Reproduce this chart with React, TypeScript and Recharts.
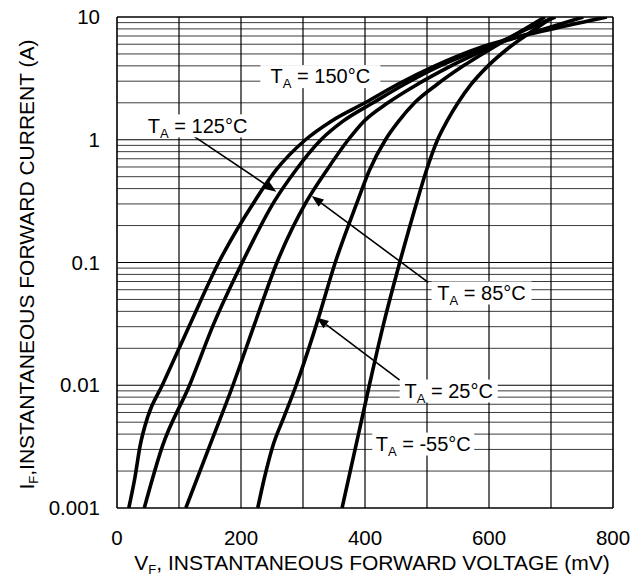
import React from 'react';
import { LineChart, Line, XAxis, YAxis, ReferenceLine, ReferenceDot } from 'recharts';

const FONT = '"Liberation Sans", Arial, Helvetica, sans-serif';

// Axes
const voltageTicks = [0, 200, 400, 600, 800];
const currentTicks = [0.001, 0.01, 0.1, 1, 10];
const currentTickLabels = ['0.001', '0.01', '0.1', '1', '10'];
const verticalGrid = [100, 200, 300, 400, 500, 600, 700];
const decades = [0.001, 0.01, 0.1, 1];
const minorMultipliers = [2, 3, 4, 5, 6, 7, 8, 9];

// Series: forward voltage (mV) vs forward current (A)
const t150 = [
  { v: 19, i: 0.001 }, { v: 29, i: 0.00178 }, { v: 37, i: 0.00316 }, { v: 50, i: 0.00562 },
  { v: 73, i: 0.01 }, { v: 118, i: 0.0316 }, { v: 164, i: 0.1 }, { v: 222, i: 0.316 },
  { v: 256, i: 0.562 }, { v: 304, i: 1.0 }, { v: 345, i: 1.41 }, { v: 400, i: 2.0 },
  { v: 452, i: 2.82 }, { v: 512, i: 3.98 }, { v: 585, i: 5.62 }, { v: 700, i: 7.94 },
  { v: 790, i: 10 },
];
const t125 = [
  { v: 44, i: 0.001 }, { v: 73, i: 0.00316 }, { v: 117, i: 0.01 }, { v: 156, i: 0.0316 },
  { v: 202, i: 0.1 }, { v: 254, i: 0.316 }, { v: 288, i: 0.562 }, { v: 329, i: 1.0 },
  { v: 364, i: 1.41 }, { v: 413, i: 2.0 }, { v: 463, i: 2.82 }, { v: 520, i: 3.98 },
  { v: 593, i: 5.62 }, { v: 688, i: 7.94 }, { v: 752, i: 10 },
];
const t85 = [
  { v: 111, i: 0.001 }, { v: 149, i: 0.00316 }, { v: 187, i: 0.01 }, { v: 222, i: 0.0316 },
  { v: 258, i: 0.1 }, { v: 306, i: 0.316 }, { v: 338, i: 0.562 }, { v: 373, i: 1.0 },
  { v: 398, i: 1.41 }, { v: 437, i: 2.0 }, { v: 484, i: 2.82 }, { v: 538, i: 3.98 },
  { v: 600, i: 5.62 }, { v: 660, i: 7.94 }, { v: 707, i: 10 },
];
const t25 = [
  { v: 227, i: 0.001 }, { v: 238, i: 0.00178 }, { v: 251, i: 0.00316 }, { v: 270, i: 0.00562 },
  { v: 289, i: 0.01 }, { v: 322, i: 0.0316 }, { v: 352, i: 0.1 }, { v: 388, i: 0.316 },
  { v: 407, i: 0.562 }, { v: 433, i: 1.0 }, { v: 454, i: 1.41 }, { v: 480, i: 2.0 },
  { v: 516, i: 2.82 }, { v: 558, i: 3.98 }, { v: 606, i: 5.62 }, { v: 657, i: 7.94 },
  { v: 690, i: 10 },
];
const tm55 = [
  { v: 363, i: 0.001 }, { v: 385, i: 0.00316 }, { v: 407, i: 0.01 }, { v: 430, i: 0.0316 },
  { v: 456, i: 0.1 }, { v: 484, i: 0.316 }, { v: 499, i: 0.562 }, { v: 517, i: 1.0 },
  { v: 532, i: 1.41 }, { v: 550, i: 2.0 }, { v: 571, i: 2.82 }, { v: 598, i: 3.98 },
  { v: 632, i: 5.62 }, { v: 674, i: 7.94 }, { v: 703, i: 10 },
];
const seriesList = [t150, t125, t85, t25, tm55];

// Annotations (label centres and arrow ends in data units)
const labelTexts = ['150°C', '125°C', '85°C', '25°C', '-55°C'];
const labelVolts = [328, 130, 588, 535, 494];
const labelAmps = [3.3, 1.31, 0.057, 0.00906, 0.00335];
const labelWidths = [120, 112, 100, 98, 102];

const arrowStarts = [{ x: 117, y: 1.128 }, { x: 502, y: 0.069 }, { x: 456, y: 0.011 }];
const arrowEnds = [{ x: 257, y: 0.377 }, { x: 314, y: 0.348 }, { x: 322, y: 0.0357 }];

const minorValues: number[] = [];
decades.forEach((d) => minorMultipliers.forEach((m) => minorValues.push(+(d * m).toPrecision(3))));

const Arrow = (props: any) => {
  const { x1, y1, x2, y2 } = props;
  const dx = x2 - x1;
  const dy = y2 - y1;
  const len = Math.hypot(dx, dy) || 1;
  const ux = dx / len;
  const uy = dy / len;
  const L = 12;
  const W = 4.5;
  const bx = x2 - ux * L;
  const by = y2 - uy * L;
  const pts = `${x2},${y2} ${bx - uy * W},${by + ux * W} ${bx + uy * W},${by - ux * W}`;
  return (
    <g>
      <line x1={x1} y1={y1} x2={bx} y2={by} stroke="#000" strokeWidth={1.6} />
      <polygon points={pts} fill="#000" />
    </g>
  );
};

const makeLabel = (text: string, w: number) => (props: any) => {
  const { cx, cy } = props;
  return (
    <g>
      <rect x={cx - w / 2} y={cy - 11} width={w} height={23} fill="#fff" />
      <text x={cx} y={cy + 7.2} textAnchor="middle" fontFamily={FONT} fontSize={20} fill="#000">
        T<tspan fontSize={13} dy={5}>A</tspan>
        <tspan dy={-5}>{' = ' + text}</tspan>
      </text>
    </g>
  );
};

const XTick = (props: any) => {
  const { x, y, payload } = props;
  return (
    <text x={x} y={y + 37} textAnchor="middle" fontFamily={FONT} fontSize={20.5} fill="#000">
      {payload.value}
    </text>
  );
};

const YTick = (props: any) => {
  const { x, y, payload } = props;
  const idx = currentTicks.findIndex((t) => Math.abs(t - payload.value) < t * 1e-6);
  return (
    <text x={x - 17} y={y + 7} textAnchor="end" fontFamily={FONT} fontSize={20.5} fill="#000">
      {idx >= 0 ? currentTickLabels[idx] : payload.value}
    </text>
  );
};

const XTitle = (props: any) => {
  const vb = props.viewBox || {};
  return (
    <text x={(vb.x ?? 117) + (vb.width ?? 496) / 2 + 7} y={(vb.y ?? 508) + 62} textAnchor="middle" fontFamily={FONT} fontSize={21} fill="#000">
      V<tspan fontSize={13} dy={4}>F</tspan>
      <tspan dy={-4}>, INSTANTANEOUS FORWARD VOLTAGE (mV)</tspan>
    </text>
  );
};

const YTitle = (props: any) => {
  const vb = props.viewBox || {};
  const cx = 34;
  const cy = (vb.y ?? 17) + (vb.height ?? 491) / 2 + 2;
  return (
    <text x={cx} y={cy} transform={`rotate(-90 ${cx} ${cy})`} textAnchor="middle" fontFamily={FONT} fontSize={21} fill="#000">
      I<tspan fontSize={13} dy={4}>F</tspan>
      <tspan dy={-4}>,INSTANTANEOUS FORWARD CURRENT (A)</tspan>
    </text>
  );
};

export default function App() {
  return (
    <div style={{ position: 'absolute', left: 0, top: 0, background: '#fff' }}>
      <LineChart width={644} height={577} margin={{ top: 17, right: 31, bottom: 0, left: 0 }}>
        <XAxis
          dataKey="v"
          type="number"
          domain={[0, 800]}
          ticks={voltageTicks}
          axisLine={false}
          tickLine={false}
          tickSize={0}
          tickMargin={0}
          height={69}
          tick={<XTick />}
          label={{ content: <XTitle /> }}
          allowDataOverflow
        />
        <YAxis
          type="number"
          scale="log"
          domain={[0.001, 10]}
          ticks={currentTicks}
          axisLine={false}
          tickLine={false}
          tickSize={0}
          tickMargin={0}
          width={117}
          tick={<YTick />}
          label={{ content: <YTitle /> }}
          allowDataOverflow
        />
        {minorValues.map((y) => (
          <ReferenceLine key={'m' + y} y={y} stroke="#3c3c3c" strokeWidth={1} />
        ))}
        {decades.slice(1).map((y) => (
          <ReferenceLine key={'d' + y} y={y} stroke="#000" strokeWidth={1.2} />
        ))}
        {verticalGrid.map((x) => (
          <ReferenceLine key={'v' + x} x={x} stroke="#000" strokeWidth={1.2} />
        ))}
        <ReferenceLine x={0} stroke="#000" strokeWidth={1.6} />
        <ReferenceLine x={800} stroke="#000" strokeWidth={1.6} />
        <ReferenceLine y={0.001} stroke="#000" strokeWidth={1.6} />
        <ReferenceLine y={10} stroke="#000" strokeWidth={1.6} />
        {labelTexts.map((t, k) => (
          <ReferenceDot key={'l' + k} x={labelVolts[k]} y={labelAmps[k]} shape={makeLabel(t, labelWidths[k])} />
        ))}
        {seriesList.map((s, k) => (
          <Line
            key={'s' + k}
            data={s}
            dataKey="i"
            type="monotone"
            stroke="#000"
            strokeWidth={3.6}
            dot={false}
            activeDot={false}
            isAnimationActive={false}
          />
        ))}
        {arrowStarts.map((a, k) => (
          <ReferenceLine key={'a' + k} segment={[a, arrowEnds[k]]} shape={Arrow} />
        ))}
      </LineChart>
    </div>
  );
}
